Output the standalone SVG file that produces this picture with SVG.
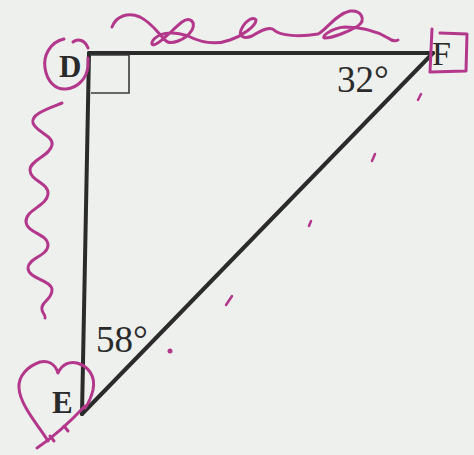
<svg xmlns="http://www.w3.org/2000/svg" width="474" height="455" viewBox="0 0 474 455">
<style>
.edge{stroke:#2b2b2b;stroke-width:4;stroke-linecap:round;fill:none}
.box{stroke:#3a3a3a;stroke-width:1.6;fill:none}
.ink{stroke:#b3388c;stroke-width:3;fill:none;stroke-linecap:round;stroke-linejoin:round}
.dot{fill:#b3388c;stroke:#b3388c;stroke-width:2.5;stroke-linecap:round}
.lbl{font-family:"Liberation Serif","Times New Roman",serif;fill:#2a2a2a}
</style>
<rect width="474" height="455" fill="#eef0ed"/>
<g id="connectors">
<line class="edge" x1="89" y1="53" x2="433" y2="53"/>
<line class="edge" x1="89" y1="53" x2="82" y2="414"/>
<line class="edge" x1="82" y1="414" x2="433" y2="53"/>
<polyline class="box" points="91,55 129,55 129,93 91,93"/>
</g>
<g id="node-D">
<text class="lbl" x="59" y="77" font-size="31" font-weight="bold">D</text>
</g>
<g id="node-F">
<text class="lbl" x="432" y="65" font-size="34">F</text>
</g>
<g id="node-E">
<text class="lbl" x="52" y="413" font-size="31" font-weight="bold">E</text>
</g>
<g id="angle-F">
<text class="lbl" x="337" y="92" font-size="37">32°</text>
</g>
<g id="angle-E">
<text class="lbl" x="96" y="352" font-size="37">58°</text>
</g>
<g id="scribbles">
<path class="ink" d="M64,39 C50,42 43,56 45,68 C47,82 56,90 66,89 C78,88 87,78 88,66 C88,62 88,60 88,58"/>
<path class="ink" d="M73,42 C78,38 85,40 88,48"/>
<path class="ink" d="M112,27 C116,16 128,12 140,17 C152,23 158,33 165,40 C170,46 186,40 192,30 C196,22 190,16 182,22 C174,28 164,40 156,44 C150,47 150,40 160,35 C170,31 182,34 188,36 C200,42 214,46 230,40 C242,36 256,26 256,20 C254,16 246,20 242,28 C238,35 242,40 252,36 C262,30 270,26 274,30 C280,36 300,37 318,34 C326,30 336,14 350,11 C362,10 366,20 358,26 C348,32 332,38 325,38 C320,38 330,28 345,27 C362,27 378,32 388,38 C392,41 396,41 398,40"/>
<path class="ink" d="M62,103 C50,108 30,114 33,123 C36,132 54,136 52,145 C50,156 30,160 30,170 C30,181 49,183 48,194 C47,206 25,210 26,222 C27,233 48,234 48,245 C48,256 28,258 28,268 C28,279 52,280 52,290 C52,300 40,302 42,310 C43,314 46,316 45,318"/>
<path class="ink" d="M58,373 C55,363 47,360 40,362 C28,366 18,376 19,388 C20,405 38,425 48,441 M58,373 C62,364 70,361 77,363 C88,366 96,376 93,390 C91,398 88,404 85,408"/>
<path class="ink" d="M37,448 C52,438 68,424 85,406 M50,436 L54,441 M64,426 L68,431"/>
<path class="dot" d="M418,100 L421,94"/>
<path class="dot" d="M372,161 L375,154"/>
<path class="dot" d="M309,226 L311,221"/>
<path class="dot" d="M226,305 L232,296"/>
<circle cx="170" cy="351" r="2.5" fill="#b3388c"/>
<path class="ink" d="M432,29 L430,72 L466,71 L467,34 L440,33"/>
</g>
</svg>
